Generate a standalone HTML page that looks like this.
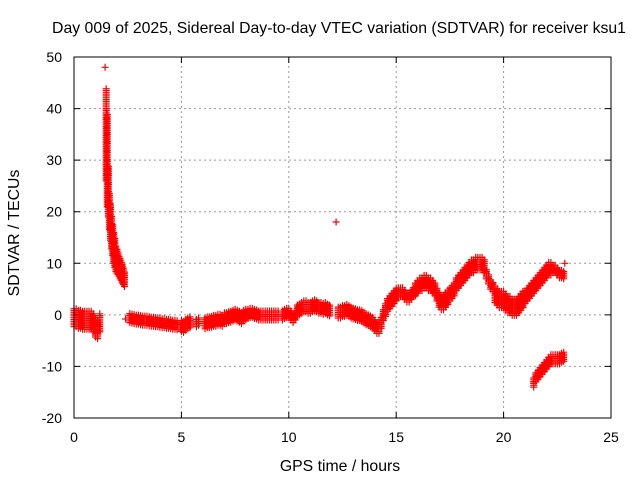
<!DOCTYPE html>
<html><head><meta charset="utf-8"><style>
body{margin:0;background:#fff}
svg{display:block;font-family:"Liberation Sans",sans-serif}
</style></head><body>
<svg id="chart" width="640" height="480" viewBox="0 0 640 480">
<rect width="640" height="480" fill="#fff"/>
<text x="339" y="33" font-size="15.8" text-anchor="middle">Day 009 of 2025, Sidereal Day-to-day VTEC variation (SDTVAR) for receiver ksu1</text>
<text x="340" y="471" font-size="15.8" text-anchor="middle">GPS time / hours</text>
<text transform="translate(19,233) rotate(-90)" font-size="15.8" text-anchor="middle">SDTVAR / TECUs</text>
<g id="grid"></g><g id="ticks"></g><g id="marks"></g>
<rect x="74" y="57" width="537" height="361" fill="none" stroke="#000" stroke-width="1"/>
</svg>
<script>
const xTicks=[0,5,10,15,20,25];
const yTicks=[-20,-10,0,10,20,30,40,50];
const segStart=[0,1.45,1.5,2.4,2.6,5.0,5.7,6.1,8.1,9.7,10.4,12.2,12.3,14.5,15.1,15.9,17.0,17.5,19.2,19.6,21.0,22.3,22.85,21.4];
const segStep=[0.1,0.05,0.05,0.1,0.1,0.1,0.1,0.1,0.1,0.1,0.1,0.1,0.1,0.1,0.1,0.1,0.1,0.1,0.1,0.1,0.1,0.1,0.1,0.1];
const segVals=[
[-0.5,-0.5,-0.8,-0.8,-1,-1,-1,-1,-1,-1.5,-2.5,-2.8,-1.5],
[48],
[35,30,24,20,18,16,14.5,13,12,11,10.5,10,9.5,9,8.5,8,7.5,7],
[-0.8],
[-0.5,-0.6,-0.7,-0.8,-0.8,-0.9,-1,-1,-1,-1.1,-1.2,-1.2,-1.3,-1.3,-1.4,-1.5,-1.5,-1.6,-1.6,-1.7,-1.8,-1.8,-1.9],
[-2,-2.2,-1.8,-1.5,-1.3],
[-1.5,-1.2],
[-1.5,-1.3,-1.3,-1.2,-1,-1,-0.8,-0.8,-1,-0.5,-0.5,-0.3,-0.2,0,0.2,0,-0.2,-0.5,0,0.2],
[0.3,0.5,0.5,0.3,0.2,0,0,0,0,0,0,0,0,0,0],
[0,0.3,0.5,0.5,0,-0.5,0],
[1,1.2,1.5,1.8,1.8,1.5,1.5,1.8,2,1.8,1.5,1.5,1.3,1.5,1.2,1],
[18],
[0.5,0.5,0.8,0.8,1,0.8,0.5,0.3,0.2,0,0,-0.2,-0.5,-0.8,-1,-1.2,-1.5,-2,-2.5,-2.5,-1.5,0],
[1,2,2.5,3,3.5,4],
[4.5,4.5,4.5,4,3.5,3.5,4,4.5],
[5,5.5,6,6,6.5,6.5,6,6,5.5,5,4],
[3,2.5,2.5,3,3.5],
[4,4.5,5,6,6.5,7,7.5,8,8.5,9,9.5,9.5,10,10,10,10,9.5],
[8,7,6,5.5],
[4,3.5,3,3,3,2.5,2,2,1.5,1.5,1.5,2,2.5,3],
[3.5,4,4.5,5,5.5,6,6.5,7,7.5,8,8.5,9,9],
[9,9,8.5,8,8,7.8],
[10],
[-13,-12,-11.5,-11,-10.5,-10,-9.5,-9,-8.5,-8.5,-8.5,-8.5,-8.5,-8.2,-8]
];
const segSpread=[1.8,0,[9,9,5,3.5,3.5,3.2,3,3,2.8,2.6,2.4,2.2,2,2,1.8,1.8,1.6,1.5],0,1,1.2,0.8,1.2,1,1,1.2,0,1.1,1.3,1,1.3,1.5,1.3,1,1.6,1.3,0.8,0,1];

const X0=74,X1=611,Y0=418,Y1=57;
const xs=v=>X0+(v-0)/25*(X1-X0);
const ys=v=>Y0-(v+20)/70*(Y0-Y1);
const NS="http://www.w3.org/2000/svg";
const grid=document.getElementById('grid'),ticks=document.getElementById('ticks'),marks=document.getElementById('marks');
function mk(tag,attrs,parent){const e=document.createElementNS(NS,tag);for(const k in attrs)e.setAttribute(k,attrs[k]);parent.appendChild(e);return e;}
xTicks.forEach(t=>{
  const x=xs(t);
  if(t>0&&t<25){const g=mk('line',{x1:x,x2:x,y1:Y0,y2:Y1,stroke:'#999','stroke-dasharray':'2,3','stroke-width':1},grid);
  
  }
  const tk=mk('path',{d:`M${x},${Y0}v-6M${x},${Y1}v6`,stroke:'#000'},ticks);
  
  
  const l=mk('text',{x:x,y:Y0+24,'font-size':14,'text-anchor':'middle'},ticks);l.textContent=t;
  
  
});
yTicks.forEach(t=>{
  const y=ys(t);
  if(t>-20&&t<50){const g=mk('line',{x1:X0,x2:X1,y1:y,y2:y,stroke:'#999','stroke-dasharray':'2,3','stroke-width':1},grid);
  
  }
  const tk=mk('path',{d:`M${X0},${y}h6M${X1},${y}h-6`,stroke:'#000'},ticks);
  
  
  const l=mk('text',{x:X0-12,y:y+5,'font-size':14,'text-anchor':'end'},ticks);l.textContent=t;
  
  
});
let d='';
segVals.forEach((vals,s)=>{
  vals.forEach((v,i)=>{
    const t=segStart[s]+i*segStep[s];
    const sp=Array.isArray(segSpread[s])?segSpread[s][i]:segSpread[s];
    const x=xs(t);
    for(let u=v-sp;u<=v+sp+1e-9;u+=0.35){
      const y=ys(u);
      d+=`M${(x-3.5).toFixed(1)},${y.toFixed(1)}h7M${x.toFixed(1)},${(y-3.5).toFixed(1)}v7`;
    }
  });
});
const p=mk('path',{d:d,stroke:'#ff0000','stroke-width':1.2,fill:'none'},marks);


</script>
</body></html>
